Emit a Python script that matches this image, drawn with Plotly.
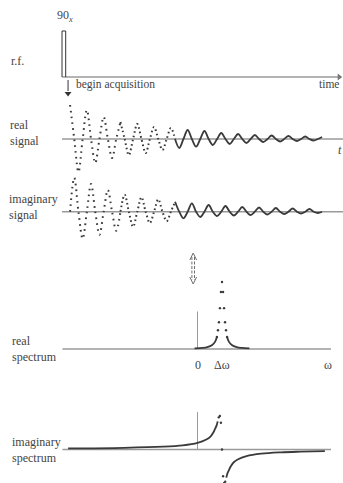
import plotly.graph_objects as go

W, H = 343, 483

# ---------------- data ----------------
# time axis in ms, one oscillation period = 1 ms
t_acq_start = 0.48            # first FID sample
half_period = 0.5
real_extrema = [34, -33, 29, -24, 22, -19, 17, -16, 15, -14, 12, -11, 11, -9, 9, -7.7,
                8, -6, 6, -5, 5, -4, 4, -3, 3.5, -2.5, 3, -2, 2.5, -1.5, 2]
imag_extrema = [34, -27, 27.7, -23, 21.7, -19, 17, -15, 14.4, -11.3, 12.4, -9.5, 10, -6.6,
                8.4, -5.3, 6.7, -4.3, 5.7, -3.8, 4.7, -3.3, 4.2, -2.8, 3.7, -2.3, 3.2, -1.8,
                2.7, -1.3]
# ms limits of the FID stretches: sparse dots, denser dots, then solid
segment_limits = [3.5, 6.9]
segment_dash = ["1.6px,4.2px", "1.6px,2.8px"]

pulse_start = 0.0
pulse_width = 0.22
pulse_height = 46
acq_arrow_t = 0.36
acq_arrow_len = [-3, -14]
acq_arrow_head = -16.5
time_axis_end = 16.5
signal_axis_end = 16.73

# frequency axis (arbitrary units), offset = 0 at resonance
delta_omega = 25
omega_axis = [-137.8, 136.2]
freq_ticks = [0, 25, 133]
freq_tick_text = ["0", "Δω", "ω"]
zero_line_height = 0.56

abs_tail_off = [-28, -20, -15, -10, -7, -5.2]
abs_tail_val = [0.008, 0.016, 0.028, 0.06, 0.11, 0.18]
abs_dot_off = [-5.2, -4.1, -3.1, -2.1, -1.1, 0, 1.1, 2.1, 3.1, 4.1, 5.2]
abs_dot_val = [0.18, 0.28, 0.40, 0.61, 0.85, 1.0, 0.85, 0.61, 0.40, 0.28, 0.18]

disp_left_off = [-157, -100, -60, -40, -25, -16, -12, -9, -7, -5.5, -4.4]
disp_left_val = [0.016, 0.025, 0.042, 0.063, 0.10, 0.15, 0.19, 0.25, 0.31, 0.36, 0.42]
disp_right_off = [4.4, 5.5, 7, 9, 12, 16, 25, 40, 60, 80, 105]
disp_right_val = [-0.42, -0.36, -0.31, -0.25, -0.19, -0.15, -0.10, -0.063, -0.042, -0.032, -0.024]
disp_dot_off = [-3.3, -2.2, -1.1, 0, 1.1, 2.2, 3.3]
disp_dot_val = [0.48, 0.50, 0.40, 0, -0.40, -0.50, -0.48]

# ---------------- geometry of the page ----------------
T_PX = 16.8      # px per ms
T0_PX = 62       # x pixel of t = 0
F_PX = 0.98      # px per frequency unit
F0_PX = 197.5    # x pixel of omega = 0
S_PX = 67        # px per spectrum intensity unit
base_rf, base_re, base_im, base_rs, base_is = 77, 139, 211.7, 349, 449.5

INK = "#3a3a3a"
GREY = "#9a9a9a"
TXT = "#444444"
FONT = "Liberation Serif, Times New Roman, serif"


def build_fid(extrema, start_at_zero):
    ts, vs = [], []
    if start_at_zero:
        ts.append(t_acq_start)
        vs.append(0)
        t = t_acq_start + half_period / 2
    else:
        t = t_acq_start
    for i, e in enumerate(extrema):
        ts.append(t)
        vs.append(e)
        if start_at_zero or i < len(extrema) - 1:
            ts.append(t + half_period / 2)
            vs.append(0)
        t += half_period
    return ts, vs


fig = go.Figure()


def fid_traces(ts, vs, yax):
    pts = list(zip(ts, vs))
    start = pts[0][0]
    limits = segment_limits + [float("inf")]
    dashes = segment_dash + [None]
    for lim, dash in zip(limits, dashes):
        part = [p for p in pts if start <= p[0] <= lim]
        line = dict(color=INK, width=2.0 if dash else 1.8, shape="spline", smoothing=1.0)
        if dash:
            line["dash"] = dash
        fig.add_trace(go.Scatter(x=[p[0] for p in part], y=[p[1] for p in part], mode="lines",
                                 line=line, xaxis="x", yaxis=yax, hoverinfo="skip"))
        start = part[-1][0]


# r.f. channel
fig.add_trace(go.Scatter(x=[pulse_start, time_axis_end], y=[0, 0], mode="lines",
                         line=dict(color=GREY, width=1.3), xaxis="x", yaxis="y", hoverinfo="skip"))
fig.add_trace(go.Scatter(x=[time_axis_end], y=[0], mode="markers",
                         marker=dict(symbol="triangle-right", size=6, color="#777"),
                         xaxis="x", yaxis="y", hoverinfo="skip"))
fig.add_trace(go.Scatter(x=[pulse_start, pulse_start, pulse_start + pulse_width, pulse_start + pulse_width],
                         y=[0, pulse_height, pulse_height, 0], mode="lines",
                         line=dict(color="#333", width=1), xaxis="x", yaxis="y", hoverinfo="skip"))
# begin-acquisition arrow
fig.add_trace(go.Scatter(x=[acq_arrow_t, acq_arrow_t], y=acq_arrow_len, mode="lines",
                         line=dict(color="#333", width=1), xaxis="x", yaxis="y", hoverinfo="skip"))
fig.add_trace(go.Scatter(x=[acq_arrow_t], y=[acq_arrow_head], mode="markers",
                         marker=dict(symbol="triangle-down", size=6, color="#333"),
                         xaxis="x", yaxis="y", hoverinfo="skip"))

# FID baselines
for yax in ("y2", "y3"):
    fig.add_trace(go.Scatter(x=[pulse_start, signal_axis_end], y=[0, 0], mode="lines",
                             line=dict(color=GREY, width=1.6), xaxis="x", yaxis=yax, hoverinfo="skip"))

rt, rv = build_fid(real_extrema, False)
fid_traces(rt, rv, "y2")
it, iv = build_fid(imag_extrema, True)
fid_traces(it, iv, "y3")

# spectra baselines and zero-frequency markers
for yax in ("y4", "y5"):
    fig.add_trace(go.Scatter(x=omega_axis, y=[0, 0], mode="lines",
                             line=dict(color=GREY, width=1.5), xaxis="x2", yaxis=yax, hoverinfo="skip"))
    fig.add_trace(go.Scatter(x=[0, 0], y=[0, zero_line_height], mode="lines",
                             line=dict(color=GREY, width=1), xaxis="x2", yaxis=yax, hoverinfo="skip"))

# absorption (real spectrum)
left = [(delta_omega + o, v) for o, v in zip(abs_tail_off, abs_tail_val)]
right = [(delta_omega - o, v) for o, v in zip(reversed(abs_tail_off), reversed(abs_tail_val))]
for seg_pts in (left, right):
    fig.add_trace(go.Scatter(x=[p[0] for p in seg_pts], y=[p[1] for p in seg_pts], mode="lines",
                             line=dict(color=INK, width=1.8, shape="spline"),
                             xaxis="x2", yaxis="y4", hoverinfo="skip"))
fig.add_trace(go.Scatter(x=[delta_omega + o for o in abs_dot_off], y=abs_dot_val, mode="markers",
                         marker=dict(color=INK, size=2.4), xaxis="x2", yaxis="y4", hoverinfo="skip"))

# dispersion (imaginary spectrum)
fig.add_trace(go.Scatter(x=[delta_omega + o for o in disp_left_off], y=disp_left_val, mode="lines",
                         line=dict(color=INK, width=1.8, shape="spline"),
                         xaxis="x2", yaxis="y5", hoverinfo="skip"))
fig.add_trace(go.Scatter(x=[delta_omega + o for o in disp_right_off], y=disp_right_val, mode="lines",
                         line=dict(color=INK, width=1.8, shape="spline"),
                         xaxis="x2", yaxis="y5", hoverinfo="skip"))
fig.add_trace(go.Scatter(x=[delta_omega + o for o in disp_dot_off], y=disp_dot_val, mode="markers",
                         marker=dict(color=INK, size=2.4), xaxis="x2", yaxis="y5", hoverinfo="skip"))


def px(x, y):
    return x / W, 1 - y / H


ann = []


def label(text, x, y, size=12, xanchor="left", italic=False, color=TXT):
    xp, yp = px(x, y)
    ann.append(dict(text=f"<i>{text}</i>" if italic else text, x=xp, y=yp, xref="paper", yref="paper",
                    showarrow=False, xanchor=xanchor, yanchor="middle", align="left",
                    font=dict(family=FONT, size=size, color=color)))


label("r.f.", 9, 61)
label("90<sub><i>x</i></sub>", 55, 16)
label("begin acquisition", 74, 84, size=11.5)
label("time", 341, 84, xanchor="right", size=11.5)
label("real<br>signal", 8, 133)
label("t", 336, 150, italic=True)
label("imaginary<br>signal", 7, 207)
label("real<br>spectrum", 10, 348.5)
label("imaginary<br>spectrum", 10, 449.5)

for f, txt in zip(freq_ticks, freq_tick_text):
    ann.append(dict(text=txt, x=f, y=0, xref="x2", yref="y4", showarrow=False,
                    xanchor="center", yanchor="top", yshift=-7,
                    font=dict(family=FONT, size=12, color=TXT)))

# hollow double-shafted "if and only if" arrow between time and frequency domains
ARW = "#6f6f6f"
cx, top, bot = 193.2, 253, 284
shapes = []


def seg(x0, y0, x1, y1, dash="solid"):
    a0, b0 = px(x0, y0)
    a1, b1 = px(x1, y1)
    shapes.append(dict(type="line", xref="paper", yref="paper", x0=a0, y0=b0, x1=a1, y1=b1,
                       line=dict(color=ARW, width=1, dash=dash)))


seg(cx - 3.4, top + 7, cx, top)
seg(cx, top, cx + 3.4, top + 7)
seg(cx - 3.4, bot - 7, cx, bot)
seg(cx, bot, cx + 3.4, bot - 7)
seg(cx - 1.3, top + 4, cx - 1.3, bot - 4, dash="3px,1.5px")
seg(cx + 1.3, top + 4, cx + 1.3, bot - 4, dash="3px,1.5px")

hidden = dict(visible=False, showgrid=False, zeroline=False, fixedrange=True)
fig.update_layout(
    width=W, height=H, autosize=False,
    margin=dict(l=0, r=0, t=0, b=0, pad=0),
    paper_bgcolor="white", plot_bgcolor="white", showlegend=False,
    xaxis=dict(domain=[0, 1], range=[-T0_PX / T_PX, (W - T0_PX) / T_PX], **hidden),
    xaxis2=dict(overlaying="x", range=[-F0_PX / F_PX, (W - F0_PX) / F_PX], **hidden),
    yaxis=dict(domain=[0, 1], range=[-(H - base_rf), base_rf], **hidden),
    yaxis2=dict(overlaying="y", range=[-(H - base_re), base_re], **hidden),
    yaxis3=dict(overlaying="y", range=[-(H - base_im), base_im], **hidden),
    yaxis4=dict(overlaying="y", range=[-(H - base_rs) / S_PX, base_rs / S_PX], **hidden),
    yaxis5=dict(overlaying="y", range=[-(H - base_is) / S_PX, base_is / S_PX], **hidden),
    annotations=ann,
    shapes=shapes,
)

fig.write_html("out.html", config=dict(displayModeBar=False, staticPlot=True))
